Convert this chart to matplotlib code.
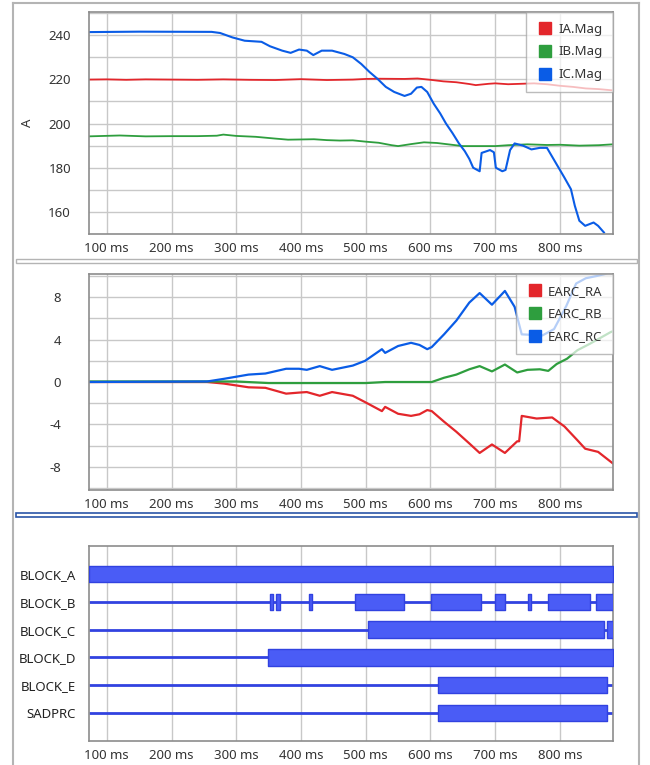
import matplotlib.pyplot as plt
from matplotlib.lines import Line2D
from matplotlib.patches import Rectangle
import numpy as np

plt.rcParams['font.family'] = ['Noto Sans', 'DejaVu Sans']

# --- top panel: current magnitudes (A) ---
t_ia = [72, 100, 130, 160, 200, 240, 280, 320, 360, 400, 440, 480, 500, 520, 560, 580, 600,
        620, 640, 660, 670, 690, 700, 720, 760, 780, 800, 820, 840, 860, 882]
ia_mag = [219.9, 220.0, 219.8, 220.0, 219.9, 219.8, 220.0, 219.8, 219.7, 220.1, 219.7, 219.9, 220.2, 220.3, 220.2, 220.4, 219.8,
          219.1, 218.7, 217.9, 217.4, 218.0, 218.2, 217.8, 218.2, 217.8, 217.1, 216.6, 215.9, 215.6, 215.0]

t_ib = [72, 120, 160, 200, 240, 270, 280, 300, 330, 360, 380, 400, 420, 440, 460, 480, 500,
        520, 540, 550, 570, 590, 610, 630, 650, 670, 700, 720, 750, 780, 800, 830, 860, 882]
ib_mag = [194.2, 194.6, 194.2, 194.3, 194.3, 194.5, 195.0, 194.4, 194.0, 193.2, 192.7, 192.8, 192.9, 192.5, 192.3, 192.4, 191.8,
          191.3, 190.2, 189.8, 190.7, 191.5, 191.2, 190.5, 189.8, 189.8, 189.8, 190.2, 190.6, 190.3, 190.4, 190.0, 190.2, 190.6]

t_ic = [72, 150, 262, 275, 294, 313, 339, 352, 371, 384, 397, 409, 419, 432, 448, 467, 480, 493,
        506, 518, 531, 544, 560, 570, 579, 586, 595, 605, 615, 624, 634, 644, 653, 660, 666, 676,
        679, 692, 698, 701, 711, 716, 723, 730, 743, 756, 769, 780, 788, 798, 807, 817, 823, 830,
        839, 852, 859, 868]
ic_mag = [241.4, 241.6, 241.5, 241.0, 239.0, 237.5, 237.0, 235.0, 233.0, 232.0, 233.5, 233.0, 231.0, 233.0, 233.0, 231.5, 230.0, 227.0,
          223.3, 220.3, 216.6, 214.3, 212.5, 213.5, 216.3, 216.6, 214.3, 209.0, 204.6, 200.0, 195.7, 191.0, 187.5, 184.0, 180.0, 178.4,
          186.7, 188.0, 187.0, 180.0, 178.4, 179.0, 188.0, 191.0, 190.0, 188.3, 189.0, 189.0, 185.0, 180.0, 175.5, 170.3, 162.8, 156.0,
          153.7, 155.2, 153.7, 150.7]

# --- middle panel: EARC values ---
t_ra = [72, 255, 281, 319, 345, 377, 397, 409, 429, 448, 480, 499, 525, 530, 550, 570, 583, 595, 602,
        621, 640, 660, 676, 695, 715, 734, 737, 741, 764, 788, 807, 827, 839, 859, 882]
earc_ra = [0.0, 0.0, -0.15, -0.5, -0.55, -1.1, -1.0, -0.95, -1.3, -0.95, -1.3, -1.9, -2.75, -2.35, -3.0, -3.2, -3.05, -2.65, -2.75,
           -3.75, -4.7, -5.8, -6.7, -5.9, -6.7, -5.6, -5.6, -3.2, -3.45, -3.35, -4.2, -5.5, -6.3, -6.6, -7.7]

t_rb = [72, 300, 350, 500, 530, 602, 621, 640, 660, 676, 695, 715, 734, 750, 769, 782, 795, 811, 827, 846, 878, 882]
earc_rb = [0.05, 0.05, -0.1, -0.1, 0.0, 0.0, 0.4, 0.7, 1.2, 1.5, 1.0, 1.65, 0.9, 1.15, 1.2, 1.05, 1.7, 2.2, 3.0, 3.6, 4.7, 4.8]

t_rc = [72, 255, 281, 319, 345, 377, 397, 409, 429, 448, 480, 499, 525, 530, 550, 570, 583, 595, 602,
        621, 640, 660, 676, 695, 715, 730, 741, 773, 791, 810, 825, 840, 856, 870, 882]
earc_rc = [0.0, 0.05, 0.3, 0.7, 0.8, 1.25, 1.25, 1.15, 1.5, 1.15, 1.55, 2.0, 3.1, 2.75, 3.4, 3.7, 3.5, 3.1, 3.3,
           4.5, 5.8, 7.5, 8.4, 7.3, 8.6, 7.1, 4.5, 4.4, 5.0, 7.2, 9.3, 9.8, 10.0, 10.2, 10.5]

# --- bottom panel: digital signals (start ms, end ms) ---
dig_names = ['BLOCK_A', 'BLOCK_B', 'BLOCK_C', 'BLOCK_D', 'BLOCK_E', 'SADPRC']
dig_on = [
    [(72, 882)],
    [(352, 357), (361, 368), (413, 417), (484, 559), (601, 678), (699, 715), (750, 756), (782, 846), (855, 882)],
    [(503, 868), (872, 882)],
    [(349, 882)],
    [(612, 872)],
    [(612, 872)],
]

x_ticks = [100, 200, 300, 400, 500, 600, 700, 800]
x_labels = ['100 ms', '200 ms', '300 ms', '400 ms', '500 ms', '600 ms', '700 ms', '800 ms']

RED = '#e3262b'
GREEN = '#2e9e3e'
BLUE = '#0a5ce6'
DIG = '#4a5cf6'
DIG_EDGE = '#3142e0'

W, H = 650, 765
fig = plt.figure(figsize=(W / 100, H / 100), dpi=100)


def px_axes(left, top, right, bottom):
    return fig.add_axes([left / W, 1 - bottom / H, (right - left) / W, (bottom - top) / H])


def style(ax, ypad):
    ax.set_xlim(72.5, 882)
    ax.set_xticks(x_ticks)
    ax.set_xticklabels(x_labels)
    ax.tick_params(length=0, labelsize=9.5, colors='#333333')
    ax.tick_params(axis='x', pad=6)
    ax.tick_params(axis='y', pad=ypad)
    ax.grid(True, color='#c8c8c8', lw=1)
    ax.set_axisbelow(True)
    for s in ax.spines.values():
        s.set_color('#8c8c8c')
        s.set_linewidth(1.2)


def legend(ax, labels, colors):
    handles = [Line2D([], [], marker='s', ls='none', markersize=8, color=c) for c in colors]
    lg = ax.legend(handles, labels, loc='upper right', borderaxespad=0, fontsize=9.5,
                   frameon=True, fancybox=False, framealpha=0.7, edgecolor='#a0a0a0',
                   handletextpad=0.4, labelspacing=0.75, borderpad=0.8, handlelength=1.2)
    lg.get_frame().set_linewidth(1)
    for txt in lg.get_texts():
        txt.set_color('#333333')


# top
ax1 = px_axes(89, 12, 613, 234)
style(ax1, 13)
ax1.plot(t_ia, ia_mag, color=RED, lw=1.3)
ax1.plot(t_ib, ib_mag, color=GREEN, lw=1.3)
ax1.plot(t_ic, ic_mag, color=BLUE, lw=1.5)
ax1.set_ylim(150, 250.5)
ax1.set_yticks(np.arange(160, 251, 10))
ax1.set_yticklabels([str(v) if v % 20 == 0 else '' for v in range(160, 251, 10)])
ax1.set_ylabel('A', fontsize=9.5, color='#333333')
ax1.yaxis.set_label_coords(-0.105, 0.5)
legend(ax1, ['IA.Mag', 'IB.Mag', 'IC.Mag'], [RED, GREEN, BLUE])

# middle
ax2 = px_axes(89, 274, 613, 490)
style(ax2, 20)
ax2.plot(t_ra, earc_ra, color=RED, lw=1.6)
ax2.plot(t_rb, earc_rb, color=GREEN, lw=1.6)
ax2.plot(t_rc, earc_rc, color=BLUE, lw=1.6)
ax2.set_ylim(-10.2, 10.2)
ax2.set_yticks(np.arange(-10, 11, 2))
ax2.set_yticklabels([str(v) if v % 4 == 0 else '' for v in range(-10, 11, 2)])
legend(ax2, ['EARC_RA', 'EARC_RB', 'EARC_RC'], [RED, GREEN, BLUE])

# bottom
ax3 = px_axes(89, 546, 613, 741)
style(ax3, 9.5)
ax3.grid(False, axis='y')
for i, spans in enumerate(dig_on):
    ax3.hlines(i, 72.5, 882, color=DIG_EDGE, lw=2, zorder=2)
    ax3.broken_barh([(a, b - a) for a, b in spans], (i - 0.29, 0.58),
                    facecolor=DIG, edgecolor=DIG_EDGE, lw=1, zorder=3)
ax3.set_ylim(6.0, -1.0)
ax3.set_yticks(range(len(dig_names)))
ax3.set_yticklabels(dig_names)
ax3.tick_params(axis='y', colors='#222222')

# panel frames
def fig_rect(l, t, r, b, **kw):
    fig.add_artist(Rectangle((l / W, 1 - b / H), (r - l) / W, (b - t) / H,
                             transform=fig.transFigure, fill=False, **kw))

fig.add_artist(Line2D([13 / W, 13 / W], [0, 1 - 3 / H], transform=fig.transFigure, color='#b4b4b4', lw=1.5))
fig.add_artist(Line2D([639 / W, 639 / W], [0, 1 - 3 / H], transform=fig.transFigure, color='#b4b4b4', lw=1.5))
fig.add_artist(Line2D([13 / W, 639 / W], [1 - 3 / H, 1 - 3 / H], transform=fig.transFigure, color='#b4b4b4', lw=1.5))
fig_rect(15.5, 259, 637, 263, edgecolor='#b4b4b4', lw=1)
fig_rect(15.5, 513, 637, 517, edgecolor='#2a55a8', lw=1.2)

fig.savefig('out.png', dpi=100)
